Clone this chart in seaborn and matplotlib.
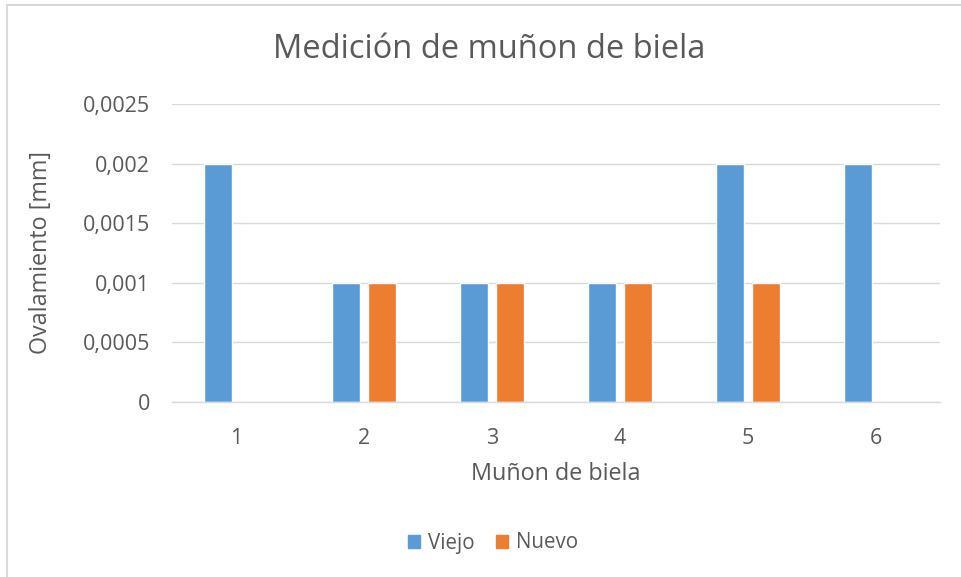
import matplotlib
matplotlib.use("Agg")
import matplotlib.pyplot as plt
import seaborn as sns
import pandas as pd
from matplotlib.patches import Patch, Rectangle

categories = ["1", "2", "3", "4", "5", "6"]
viejo = [0.002, 0.001, 0.001, 0.001, 0.002, 0.002]
nuevo = [0.0, 0.001, 0.001, 0.001, 0.001, 0.0]
series_names = ["Viejo", "Nuevo"]
colors = ["#5B9BD5", "#ED7D31"]
ytick_vals = [0, 0.0005, 0.001, 0.0015, 0.002, 0.0025]
ytick_labels = ["0", "0,0005", "0,001", "0,0015", "0,002", "0,0025"]

df = pd.DataFrame({
    "cat": categories * 2,
    "val": viejo + nuevo,
    "serie": [series_names[0]] * 6 + [series_names[1]] * 6,
})

sns.set_theme(style="white")
plt.rcParams["font.family"] = ["Open Sans", "DejaVu Sans"]
txt = "#595959"

fig = plt.figure(figsize=(9.61, 5.77), dpi=100)
ax = fig.add_axes([172/961, 1-402/577, 768/961, 298/577])

sns.barplot(data=df, x="cat", y="val", hue="serie", palette=colors,
            width=0.5625, gap=0.2, ax=ax, legend=False, saturation=1)

ax.set_ylim(0, 0.0025)
ax.set_xlim(-0.5, 5.5)
ax.set_yticks(ytick_vals)
ax.set_yticklabels(ytick_labels)
ax.yaxis.grid(True, color="#D9D9D9", linewidth=1)
ax.set_axisbelow(True)
for s in ["top", "right", "left"]:
    ax.spines[s].set_visible(False)
ax.spines["bottom"].set_color("#D9D9D9")
ax.spines["bottom"].set_linewidth(1)
ax.tick_params(axis="both", length=0, colors=txt, labelsize=15.5)
ax.tick_params(axis="y", pad=16)
ax.tick_params(axis="x", pad=19)

ax.set_xlabel("Muñon de biela", fontsize=16.8, color=txt, labelpad=9)
ax.set_ylabel("Ovalamiento [mm]", fontsize=16.8, color=txt, labelpad=21)

fig.text(489/961, 1-50/577, "Medición de muñon de biela", ha="center", va="center",
         fontsize=23.5, color=txt)

handles = [Patch(facecolor=c, edgecolor=c) for c in colors]
fig.legend(handles, series_names, loc="center", bbox_to_anchor=(493/961, 1-543/577),
           ncol=2, frameon=False, fontsize=14.8, handlelength=0.6, handleheight=0.6,
           handletextpad=0.4, columnspacing=1.0, labelcolor=txt)

fig.patches.append(Rectangle((7/961, -0.1), 1.1, 1 - 5/577 + 0.1, transform=fig.transFigure,
                             fill=False, edgecolor="#D9D9D9", linewidth=1.5))

fig.savefig("out.png", dpi=100, facecolor="white")
